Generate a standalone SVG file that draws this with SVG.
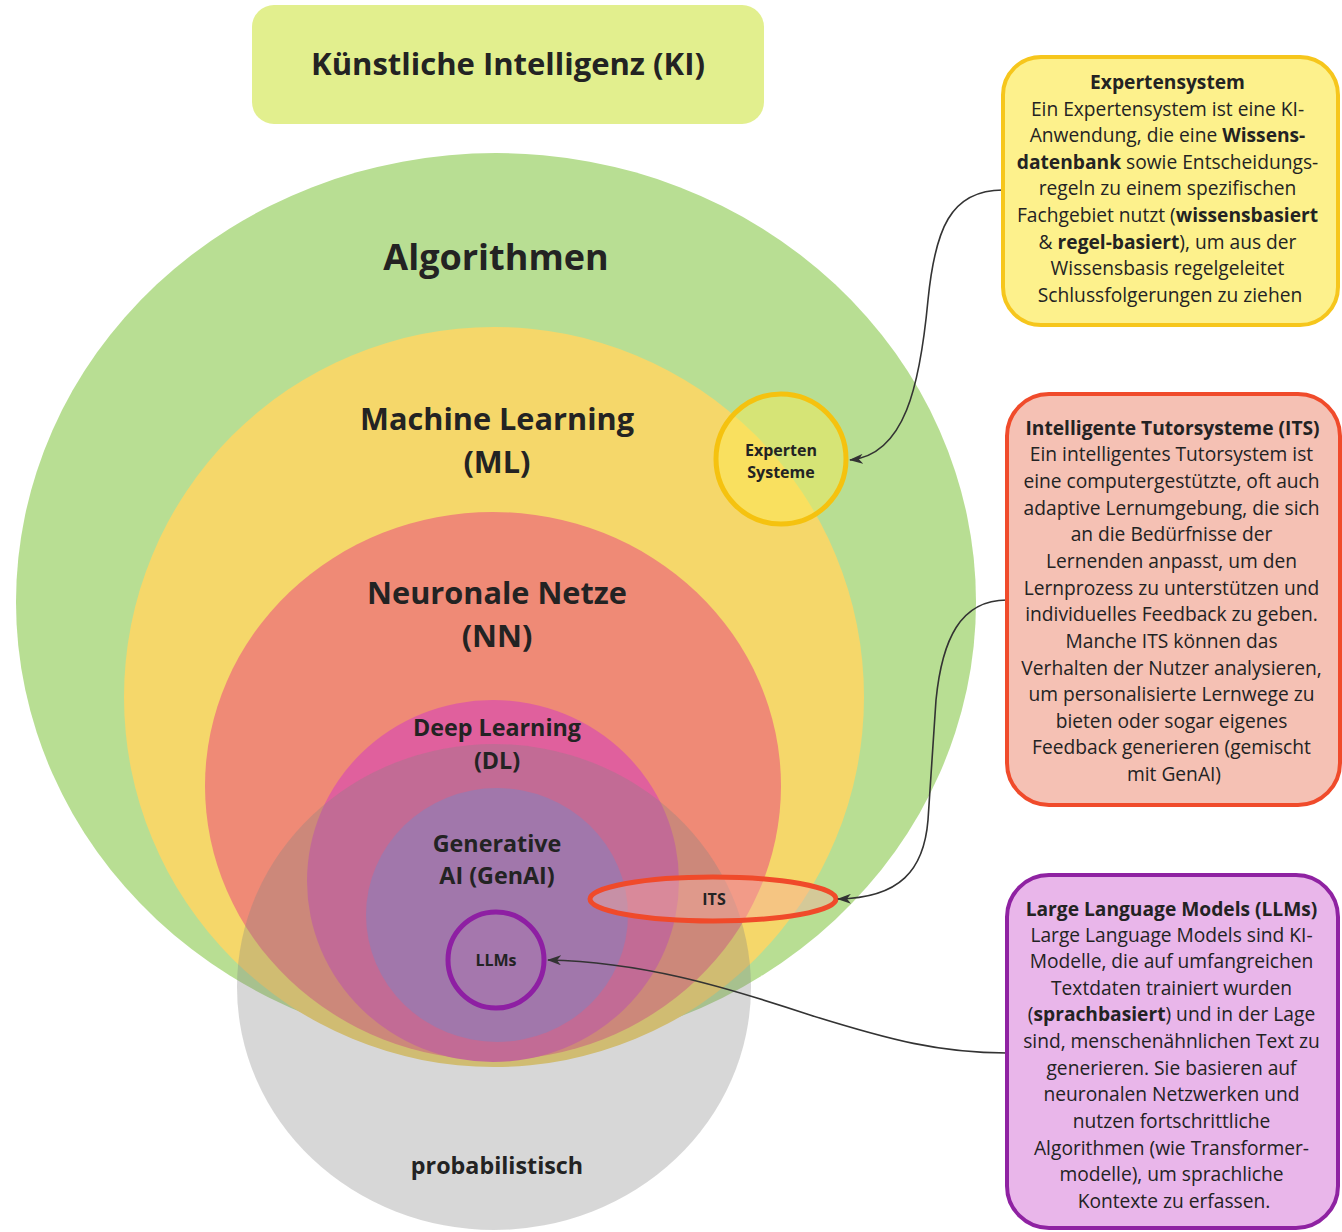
<svg xmlns="http://www.w3.org/2000/svg" width="1342" height="1232" viewBox="0 0 1342 1232">
  <style>
    text { font-family: "Open Sans", "Noto Sans", "Liberation Sans", sans-serif; fill: #232323; text-anchor: middle; }
    .b { font-weight: bold; }
    .big { font-weight: bold; }
    .note { font-size: 19.2px; }
    .small { font-size: 16px; font-weight: bold; }
    .conn { fill: none; stroke: #333; stroke-width: 1.6; marker-end: url(#arr); }
  </style>
  <defs>
    <marker id="arr" markerWidth="14" markerHeight="10" refX="13" refY="5" orient="auto" markerUnits="userSpaceOnUse">
      <path d="M0,0 L14,5 L0,10 L4,5 z" fill="#333"/>
    </marker>
  </defs>

  <!-- title -->
  <g id="title">
    <rect x="252" y="5" width="512" height="119" rx="22" fill="#e2ef8e"/>
    <text x="508" y="75" class="big" font-size="31">Künstliche Intelligenz (KI)</text>
  </g>

  <!-- nested sets -->
  <g id="algorithmen">
    <ellipse cx="496" cy="602" rx="480" ry="449" fill="#b8de93"/>
  </g>
  <g id="machine-learning">
    <circle cx="494" cy="697" r="370" fill="#f5d76a"/>
  </g>
  <g id="neuronale-netze">
    <ellipse cx="493" cy="786" rx="288" ry="274" fill="#ef8a76"/>
  </g>
  <g id="deep-learning">
    <ellipse cx="493" cy="881" rx="186" ry="181" fill="#e0609d"/>
  </g>
  <g id="probabilistisch">
    <ellipse cx="494" cy="987" rx="257" ry="243" fill="#848484" fill-opacity="0.327"/>
  </g>
  <g id="genai">
    <ellipse cx="497" cy="915" rx="131" ry="127" fill="#a177ab"/>
  </g>
  <g id="llms">
    <circle cx="496" cy="960" r="48" fill="#a577ad" stroke="#8e1fa3" stroke-width="5"/>
    <text x="496" y="966" class="small">LLMs</text>
  </g>
  <g id="experten-systeme">
    <circle cx="781" cy="459" r="65" fill="#feec50" fill-opacity="0.43" stroke="#f5c20f" stroke-width="5"/>
    <text x="781" y="456" class="small">Experten</text>
    <text x="781" y="478" class="small">Systeme</text>
  </g>
  <g id="its">
    <ellipse cx="713" cy="899" rx="123" ry="22" fill="#f7b0a0" fill-opacity="0.45" stroke="#f04a2a" stroke-width="5"/>
    <text x="714" y="905" class="small">ITS</text>
  </g>

  <!-- set labels -->
  <g id="set-labels">
    <text x="496" y="270" class="big" font-size="36">Algorithmen</text>
    <text x="497" y="430" class="big" font-size="30.7">Machine Learning</text>
    <text x="497" y="473" class="big" font-size="30.7">(ML)</text>
    <text x="497" y="604" class="big" font-size="30.7">Neuronale Netze</text>
    <text x="497" y="647" class="big" font-size="30.7">(NN)</text>
    <text x="497" y="736" class="big" font-size="23.3">Deep Learning</text>
    <text x="497" y="769" class="big" font-size="23.3">(DL)</text>
    <text x="497" y="852" class="big" font-size="23.3">Generative</text>
    <text x="497" y="884" class="big" font-size="23.3">AI (GenAI)</text>
    <text x="497" y="1174" class="big" font-size="23.3">probabilistisch</text>
  </g>

  <!-- connectors -->
  <g id="connectors">
    <path class="conn" d="M1003,190 C950,190 935,230 928,300 C920,385 905,455 850,460"/>
    <path class="conn" d="M1007,600 C960,600 942,640 936,700 L928,820 C924,870 900,898 838,899"/>
    <path class="conn" d="M1007,1053 C940,1053 890,1040 810,1015 C720,985 640,962 548,960"/>
  </g>

  <!-- description boxes -->
  <g id="box-expertensystem">
    <rect x="1003" y="57" width="335" height="268" rx="38" fill="#fdf18c" stroke="#f6c61c" stroke-width="4"/>
    <text class="note" x="1170">
      <tspan x="1170" y="89" class="b">Expertensystem</tspan>
      <tspan x="1170" y="116">Ein Expertensystem ist eine KI-</tspan>
      <tspan x="1170" y="142">Anwendung, die eine <tspan class="b">Wissens-</tspan></tspan>
      <tspan x="1170" y="169"><tspan class="b">datenbank</tspan> sowie Entscheidungs-</tspan>
      <tspan x="1170" y="195">regeln zu einem spezifischen</tspan>
      <tspan x="1170" y="222">Fachgebiet nutzt (<tspan class="b">wissensbasiert</tspan></tspan>
      <tspan x="1170" y="249">&amp; <tspan class="b">regel-basiert</tspan>), um aus der</tspan>
      <tspan x="1170" y="275">Wissensbasis regelgeleitet</tspan>
      <tspan x="1170" y="302">Schlussfolgerungen zu ziehen</tspan>
    </text>
  </g>

  <g id="box-its">
    <rect x="1007" y="394" width="333" height="411" rx="42" fill="#f5c1b4" stroke="#f04b2b" stroke-width="4"/>
    <text class="note" x="1174">
      <tspan x="1175" y="435" class="b">Intelligente Tutorsysteme (ITS)</tspan>
      <tspan x="1174" y="461">Ein intelligentes Tutorsystem ist</tspan>
      <tspan x="1174" y="488">eine computergestützte, oft auch</tspan>
      <tspan x="1174" y="515">adaptive Lernumgebung, die sich</tspan>
      <tspan x="1174" y="541">an die Bedürfnisse der</tspan>
      <tspan x="1174" y="568">Lernenden anpasst, um den</tspan>
      <tspan x="1174" y="595">Lernprozess zu unterstützen und</tspan>
      <tspan x="1174" y="621">individuelles Feedback zu geben.</tspan>
      <tspan x="1174" y="648">Manche ITS können das</tspan>
      <tspan x="1174" y="675">Verhalten der Nutzer analysieren,</tspan>
      <tspan x="1174" y="701">um personalisierte Lernwege zu</tspan>
      <tspan x="1174" y="728">bieten oder sogar eigenes</tspan>
      <tspan x="1174" y="754">Feedback generieren (gemischt</tspan>
      <tspan x="1174" y="781">mit GenAI)</tspan>
    </text>
  </g>

  <g id="box-llms">
    <rect x="1007" y="875" width="331" height="353" rx="42" fill="#e9b6ea" stroke="#8f22a2" stroke-width="4"/>
    <text class="note" x="1174">
      <tspan x="1174" y="916" class="b">Large Language Models (LLMs)</tspan>
      <tspan x="1174" y="942">Large Language Models sind KI-</tspan>
      <tspan x="1174" y="968">Modelle, die auf umfangreichen</tspan>
      <tspan x="1174" y="995">Textdaten trainiert wurden</tspan>
      <tspan x="1174" y="1021">(<tspan class="b">sprachbasiert</tspan>) und in der Lage</tspan>
      <tspan x="1174" y="1048">sind, menschenähnlichen Text zu</tspan>
      <tspan x="1174" y="1075">generieren. Sie basieren auf</tspan>
      <tspan x="1174" y="1101">neuronalen Netzwerken und</tspan>
      <tspan x="1174" y="1128">nutzen fortschrittliche</tspan>
      <tspan x="1174" y="1155">Algorithmen (wie Transformer-</tspan>
      <tspan x="1174" y="1181">modelle), um sprachliche</tspan>
      <tspan x="1174" y="1208">Kontexte zu erfassen.</tspan>
    </text>
  </g>
</svg>
